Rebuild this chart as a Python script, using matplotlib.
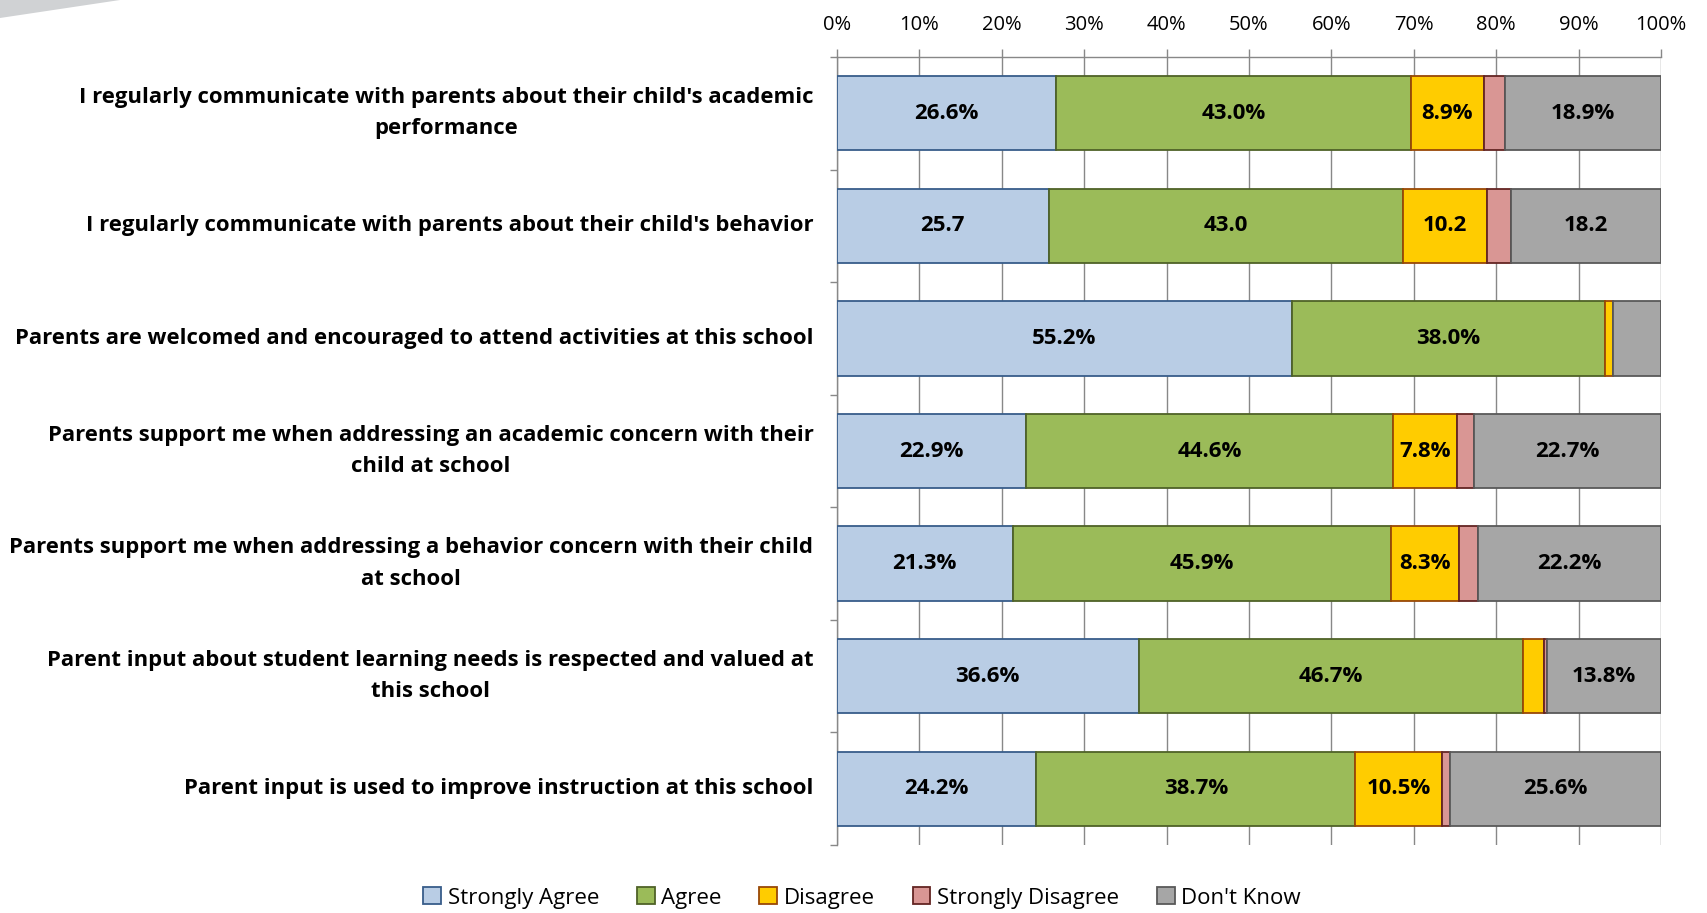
import matplotlib.pyplot as plt
import numpy as np
from matplotlib.patches import Polygon

plt.rcParams["font.family"] = ["Open Sans", "DejaVu Sans"]

questions = [
    "I regularly communicate with parents about their child's academic\nperformance",
    "I regularly communicate with parents about their child's behavior",
    "Parents are welcomed and encouraged to attend activities at this school",
    "Parents support me when addressing an academic concern with their\nchild at school",
    "Parents support me when addressing a behavior concern with their child\nat school",
    "Parent input about student learning needs is respected and valued at\nthis school",
    "Parent input is used to improve instruction at this school",
]
series_names = ["Strongly Agree", "Agree", "Disagree", "Strongly Disagree", "Don't Know"]
strongly_agree = [26.6, 25.7, 55.2, 22.9, 21.3, 36.6, 24.2]
agree = [43.0, 43.0, 38.0, 44.6, 45.9, 46.7, 38.7]
disagree = [8.9, 10.2, 1.0, 7.8, 8.3, 2.5, 10.5]
strongly_disagree = [2.6, 2.9, 0.0, 2.0, 2.3, 0.4, 1.0]
dont_know = [18.9, 18.2, 5.8, 22.7, 22.2, 13.8, 25.6]
# row 2 is labelled without the % sign in the original
show_pct = [True, False, True, True, True, True, True]
label_min = 7.0

face_colors = ["#B9CDE5", "#9BBB59", "#FFCC00", "#D99694", "#A6A6A6"]
edge_colors = ["#385D8A", "#4F6228", "#984807", "#632523", "#595959"]

fig = plt.figure(figsize=(17.07, 9.13), dpi=100)
ax = fig.add_axes([837 / 1707, 1 - 845 / 913, 824 / 1707, 788 / 913])

# grey corner decoration at the top left
fig.add_artist(Polygon([[0, 1], [120 / 1707, 1], [0, 1 - 18 / 913]],
                       closed=True, transform=fig.transFigure,
                       facecolor="#D0D2D4", edgecolor="none"))

y = np.arange(len(questions))
values = [strongly_agree, agree, disagree, strongly_disagree, dont_know]
left = np.zeros(len(questions))
for name, vals, fc, ec in zip(series_names, values, face_colors, edge_colors):
    vals = np.array(vals)
    ax.barh(y, vals, left=left, height=0.66, color=fc, edgecolor=ec,
            linewidth=1.3, label=name, zorder=3)
    for i, v in enumerate(vals):
        if v >= label_min:
            txt = f"{v:.1f}%" if show_pct[i] else f"{v:.1f}"
            ax.text(left[i] + v / 2, y[i], txt, ha="center", va="center",
                    fontsize=16, fontweight="bold", color="black", zorder=4)
    left += vals

ax.set_xlim(0, 100)
ax.set_ylim(len(questions) - 0.5, -0.5)
ax.set_xticks(np.arange(0, 101, 10))
ax.set_xticklabels([f"{t}%" for t in range(0, 101, 10)], fontsize=14.5)
ax.xaxis.tick_top()
ax.tick_params(axis="x", direction="out", length=6, width=1, color="#888888",
               pad=10, top=True, bottom=False)
ax.grid(axis="x", color="#888888", linewidth=1, zorder=0)

ax.set_yticks(y)
ax.set_yticklabels(questions, fontsize=15.9, fontweight="bold",
                   multialignment="center", linespacing=1.65, va="center")
ax.set_yticks(np.arange(-0.5, len(questions), 1), minor=True)
ax.tick_params(axis="y", which="major", length=0, pad=17)
ax.tick_params(axis="y", which="minor", length=5, width=1, color="#888888",
               direction="out")

for side in ["right", "bottom"]:
    ax.spines[side].set_visible(False)
for side in ["top", "left"]:
    ax.spines[side].set_color("#888888")
    ax.spines[side].set_linewidth(1)

ax.legend(loc="center", bbox_to_anchor=(862 / 1707, 1 - 898 / 913),
          bbox_transform=fig.transFigure, ncol=5, frameon=False,
          fontsize=16, handlelength=0.8, handleheight=0.8,
          handletextpad=0.3, columnspacing=1.7)

fig.savefig("out.png", dpi=100)
